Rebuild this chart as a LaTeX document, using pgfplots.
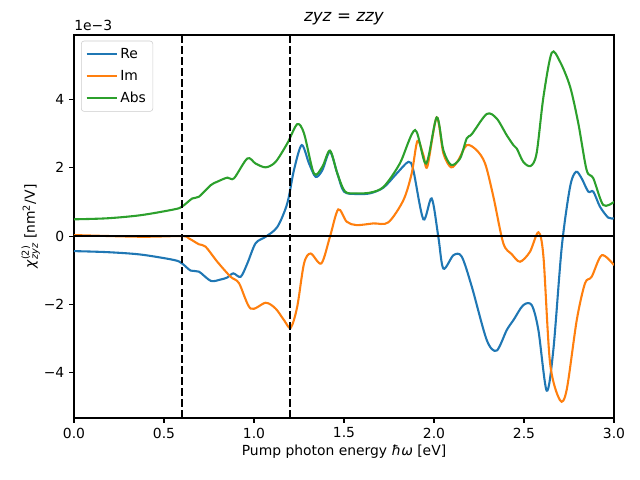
\documentclass[border=0pt]{standalone}
\usepackage{pgfplots}
\pgfplotsset{compat=1.18}
\usepackage{amsmath}
\usepackage{fontspec}
\setmainfont{DejaVu Sans}
\definecolor{c0}{HTML}{1F77B4}
\definecolor{c1}{HTML}{FF7F0E}
\definecolor{c2}{HTML}{2CA02C}
\begin{document}
\begin{tikzpicture}[x=1pt,y=1pt]
\useasboundingbox (-53.28pt,-44.64pt) rectangle (407.52pt,300.96pt);
\begin{axis}[
  at={(0,0)}, anchor=south west,
  scale only axis, width=388.8pt, height=275.76pt,
  xmin=0, xmax=3, ymin=-5.32, ymax=5.88,
  xtick={0,0.5,1,1.5,2,2.5,3},
  xticklabels={0.0,0.5,1.0,1.5,2.0,2.5,3.0},
  ytick={-4,-2,0,2,4},
  yticklabels={−4,−2,0,2,4},
  tick align=outside, tick pos=left,
  major tick length=3.5pt,
  tick style={black, line width=0.8pt},
  axis line style={line width=0.8pt},
  /pgf/number format/assume math mode=true,
  ticklabel style={font=\fontsize{10}{12}\selectfont},
  label style={font=\fontsize{10}{12}\selectfont},
  title={\fontsize{12}{14}\selectfont\textit{zyz} = \textit{zzy}},
  title style={yshift=-2pt},
  xlabel={Pump photon energy \textit{ħω} [eV]},
  ylabel={\textit{χ}$^{\text{(2)}}_{\textit{zyz}}$ [nm$^{\text{2}}$/V]},
  xlabel style={yshift=2pt},
  ylabel style={yshift=-4pt},
  legend cell align=left,
  legend style={font=\fontsize{10}{12}\selectfont, draw=black!20, rounded corners=2pt, fill=white, fill opacity=0.8, text opacity=1, inner sep=3pt, row sep=3pt, at={(0.013,0.985)}, anchor=north west},
  legend image code/.code={\draw[#1, line width=1.5pt] (0pt,0pt) -- (21.6pt,0pt);},
  every axis plot/.append style={line width=1.5pt, smooth, tension=0.5},
]
\addplot[c0] coordinates {
(0,-0.44) (0.185,-0.47) (0.37,-0.54) (0.556,-0.70) (0.6,-0.80) (0.648,-1.01) (0.694,-1.04)
(0.76,-1.31) (0.815,-1.27) (0.852,-1.21) (0.885,-1.09) (0.926,-1.19) (0.963,-0.80)
(1.009,-0.21) (1.065,-0.02) (1.13,0.27) (1.185,0.96) (1.222,1.93) (1.265,2.66)
(1.306,2.12) (1.343,1.73) (1.38,1.93) (1.422,2.47) (1.463,1.83) (1.5,1.30)
(1.57,1.23) (1.645,1.25) (1.72,1.42) (1.793,1.83) (1.858,2.17) (1.885,1.93)
(1.941,0.49) (1.987,1.10) (2.024,-0.02) (2.052,-0.95) (2.108,-0.56) (2.154,-0.60)
(2.21,-1.48) (2.293,-3.04) (2.348,-3.35) (2.404,-2.75) (2.441,-2.46) (2.496,-2.02)
(2.543,-2.02) (2.58,-2.75) (2.626,-4.52) (2.663,-3.33) (2.71,-0.31) (2.756,1.44)
(2.789,1.88) (2.82,1.69) (2.857,1.30) (2.885,1.30) (2.922,0.86) (2.968,0.54) (3.0,0.52)
};
\addlegendentry{Re}
\addplot[c1] coordinates {
(0,0.03) (0.37,-0.02) (0.6,0.0) (0.639,-0.07) (0.694,-0.24) (0.731,-0.31)
(0.796,-0.75) (0.87,-1.19) (0.917,-1.38) (0.981,-2.12) (1.065,-1.95) (1.12,-2.12)
(1.167,-2.46) (1.204,-2.68) (1.24,-2.07) (1.278,-0.80) (1.315,-0.51) (1.374,-0.80)
(1.422,-0.02) (1.468,0.78) (1.515,0.42) (1.57,0.32) (1.663,0.37) (1.746,0.40)
(1.83,1.05) (1.876,1.83) (1.908,2.78) (1.941,2.37) (1.963,2.03) (2.015,3.47)
(2.052,2.42) (2.095,2.01) (2.135,2.22) (2.182,2.66) (2.237,2.51) (2.284,2.12)
(2.33,1.15) (2.385,-0.21) (2.432,-0.53) (2.478,-0.75) (2.533,-0.46) (2.58,0.11)
(2.608,-0.60) (2.645,-3.72) (2.7,-4.80) (2.737,-4.50) (2.793,-2.46) (2.839,-1.38)
(2.876,-1.19) (2.932,-0.56) (3.0,-0.85)
};
\addlegendentry{Im}
\addplot[c2] coordinates {
(0,0.49) (0.185,0.52) (0.37,0.61) (0.556,0.78) (0.6,0.86) (0.657,1.10) (0.694,1.15)
(0.76,1.49) (0.796,1.59) (0.852,1.71) (0.889,1.69) (0.963,2.27) (1.009,2.12)
(1.065,2.01) (1.12,2.17) (1.185,2.71) (1.24,3.27) (1.278,3.0) (1.333,1.83)
(1.38,2.03) (1.422,2.50) (1.463,1.83) (1.506,1.30) (1.57,1.25) (1.645,1.27)
(1.72,1.44) (1.81,2.12) (1.895,3.10) (1.956,2.12) (2.015,3.47) (2.052,2.51)
(2.095,2.08) (2.145,2.27) (2.182,2.86) (2.21,2.98) (2.293,3.57) (2.348,3.44)
(2.404,2.95) (2.441,2.66) (2.46,2.56) (2.496,2.17) (2.537,2.05) (2.57,2.42)
(2.608,4.07) (2.654,5.36) (2.7,5.10) (2.756,4.37) (2.802,3.29) (2.848,1.93)
(2.885,1.69) (2.94,0.91) (3.0,1.0)
};
\addlegendentry{Abs}
\addplot[black, line width=1.5pt, sharp plot, forget plot] coordinates {(0,0) (3,0)};
\addplot[black, line width=1.5pt, sharp plot, dash pattern=on 5.55pt off 2.4pt, forget plot] coordinates {(0.6,-5.32) (0.6,5.88)};
\addplot[black, line width=1.5pt, sharp plot, dash pattern=on 5.55pt off 2.4pt, forget plot] coordinates {(1.2,-5.32) (1.2,5.88)};
\end{axis}
\node[anchor=south west, font=\fontsize{10}{12}\selectfont, inner sep=0pt] at (0pt,279pt) {1e−3};
\end{tikzpicture}
\end{document}
